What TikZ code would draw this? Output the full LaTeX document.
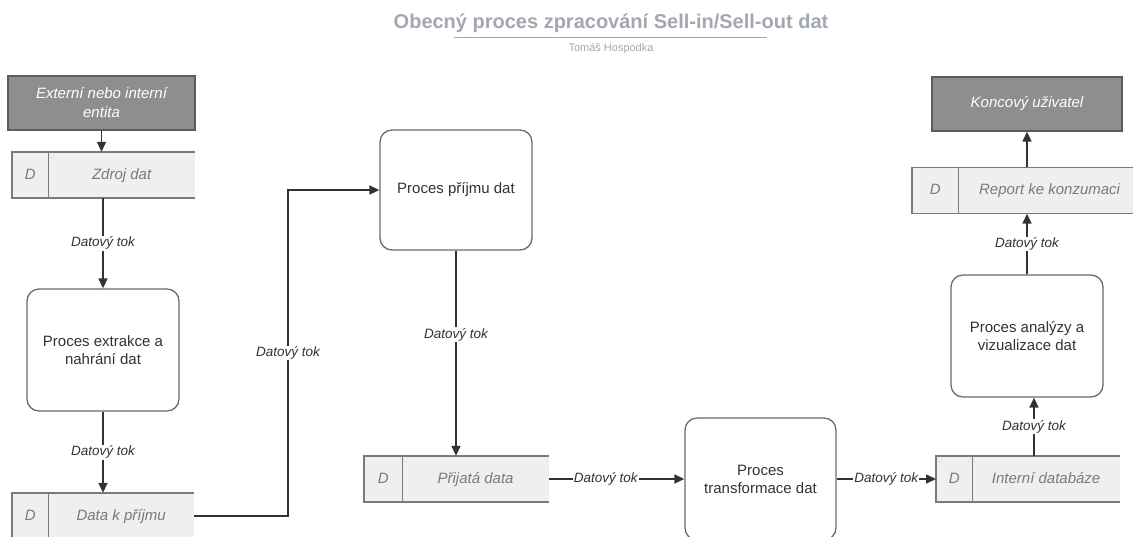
\documentclass[tikz,border=0pt]{standalone}
\usepackage{fontspec}
\setmainfont{Liberation Sans}
\usetikzlibrary{arrows.meta, positioning}
\usepackage{xcolor}

\definecolor{titlegray}{HTML}{A2A7B0}
\definecolor{entityfill}{HTML}{8E8E8E}
\definecolor{entityline}{HTML}{5C5C5C}
\definecolor{storefill}{HTML}{EEF0F0}
\definecolor{storeborder}{HTML}{7A7A7A}
\definecolor{storetext}{HTML}{7A7A7A}
\definecolor{procline}{HTML}{6B6B6B}
\definecolor{proctext}{HTML}{333333}
\definecolor{flowcol}{HTML}{333333}

\begin{document}
\begin{tikzpicture}[x=1pt, y=-1pt,
	entity/.style={draw=entityline, fill=entityfill, line width=1.3pt, text=white, font=\fontsize{15}{19}\selectfont\itshape, minimum height=54pt, align=center, inner sep=0pt},
	process/.style={draw=procline, fill=white, rounded corners=12pt, line width=1.3pt, text=proctext, font=\fontsize{15}{18}\selectfont, align=center, minimum width=152pt, minimum height=122pt, inner sep=0pt},
	storemain/.style={fill=storefill, text=storetext, font=\fontsize{15}{18}\selectfont\itshape, minimum height=46pt, text height=11pt, text depth=3pt, inner sep=0pt},
	storeid/.style={storemain, anchor=west},
	storeline/.style={draw=storeborder, line width=1.5pt},
	flow/.style={draw=flowcol, line width=1.6pt, -{Triangle[length=10pt,width=9pt]}},
	flowlabel/.style={fill=white, text=flowcol, font=\fontsize{13.5}{15}\selectfont\itshape, inner sep=1pt}]

	\useasboundingbox (0,0) rectangle (1133,536);
	\clip (0,0) rectangle (1133,536);

	% title
	\node[font=\fontsize{20}{24}\selectfont\bfseries, text=titlegray] (titulek) at (611,23) {Obecný proces zpracování Sell-in/Sell-out dat};
	\draw[titlegray, line width=1pt] (454,37) -- (767,37);
	\node[font=\fontsize{11}{13}\selectfont, text=titlegray] (autor) at (611,49) {Tomáš Hospodka};

	% entities
	\node[entity, minimum width=187pt] (externi) at (101.5,103) {Externí nebo interní\\entita};
	\node[entity, minimum width=190pt] (uzivatel) at (1027,104) {Koncový uživatel};

	% data stores
	\node[storeid, minimum width=36pt] (zdroj-d) at (12,175) {D};
	\node[storemain, minimum width=146pt, right=0pt of zdroj-d] (zdroj) {Zdroj dat};
	\node[storeid, minimum width=36pt] (kprijmu-d) at (12,516) {D};
	\node[storemain, minimum width=145pt, right=0pt of kprijmu-d] (kprijmu) {Data k příjmu};
	\node[storeid, minimum width=38pt] (prijata-d) at (364,479) {D};
	\node[storemain, minimum width=146pt, right=0pt of prijata-d] (prijata) {Přijatá data};
	\node[storeid, minimum width=36pt] (interni-d) at (936,479) {D};
	\node[storemain, minimum width=147pt, right=0pt of interni-d] (interni) {Interní databáze};
	\node[storeid, minimum width=46pt] (report-d) at (912,190.5) {D};
	\node[storemain, minimum width=182pt, right=0pt of report-d] (report) {Report ke konzumaci};

	\foreach \s in {zdroj, kprijmu, prijata, interni, report} {
		\draw[storeline] (\s.north east) -- (\s-d.north west) -- (\s-d.south west) -- (\s.south east);
		\draw[storeline] (\s-d.north east) -- (\s-d.south east);
	}

	% processes
	\node[process] (extrakce) at (103,350) {Proces extrakce a\\nahrání dat};
	\node[process, minimum height=120pt] (prijem) at (456,190) {Proces příjmu dat};
	\node[process, minimum width=151pt] (transformace) at (760.5,479) {Proces\\transformace dat};
	\node[process] (analyza) at (1027,336) {Proces analýzy a\\vizualizace dat};

	% data flows
	\coordinate (ohyb) at (288,516);
	\draw[flow] (externi.south) -- (externi.south |- zdroj.north);
	\draw[flow] (zdroj.south -| extrakce.north) -- node[flowlabel] {Datový tok} (extrakce.north);
	\draw[flow] (extrakce.south) -- node[flowlabel] {Datový tok} (extrakce.south |- kprijmu.north);
	\draw[flow] (kprijmu.east) -- (ohyb) |- node[flowlabel, pos=0.25] {Datový tok} (prijem.west);
	\draw[flow] (prijem.south) -- node[flowlabel, pos=0.41] {Datový tok} (prijem.south |- prijata.north);
	\draw[flow] (prijata.east) -- node[flowlabel, pos=0.42] {Datový tok} (transformace.west);
	\draw[flow] (transformace.east) -- node[flowlabel] {Datový tok} (interni-d.west);
	\draw[flow] ([xshift=7pt]analyza.south |- interni.north) -- node[flowlabel] {Datový tok} ([xshift=7pt]analyza.south);
	\draw[flow] (analyza.north) -- node[flowlabel] {Datový tok} (analyza.north |- report.south);
	\draw[flow] (report.north -| uzivatel.south) -- (uzivatel.south);
\end{tikzpicture}
\end{document}
